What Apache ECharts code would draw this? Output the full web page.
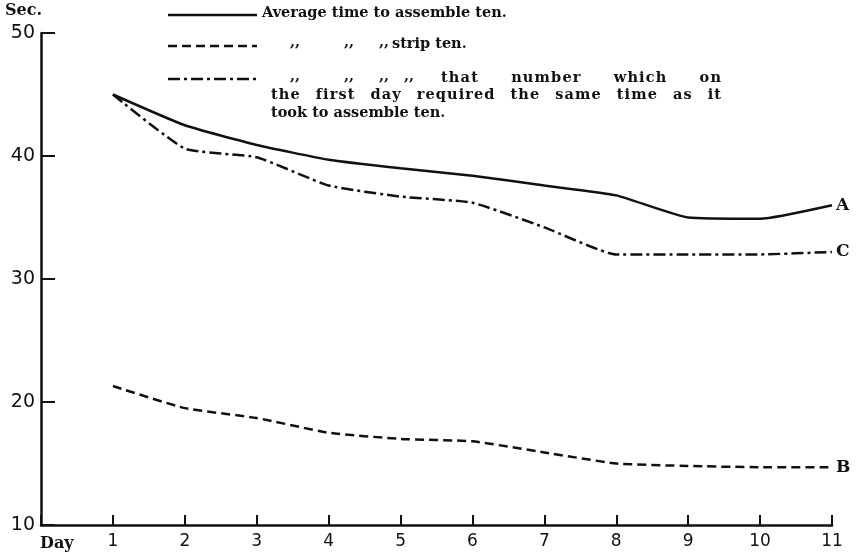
<!DOCTYPE html>
<html>
<head>
<meta charset="utf-8">
<script src="https://cdn.jsdelivr.net/npm/echarts@6/dist/echarts.min.js"></script>
<style>
  html, body { margin: 0; padding: 0; background: #fff; }
  #main { width: 867px; height: 557px; }
</style>
</head>
<body>
<div id="main"></div>
<script>
// days on the x axis
var days = [1, 2, 3, 4, 5, 6, 7, 8, 9, 10, 11];
// A: average time to assemble ten
var assembleTen = [45, 42.5, 40.9, 39.7, 39.0, 38.4, 37.6, 36.8, 35.0, 34.9, 36.0];
// B: average time to strip ten
var stripTen = [21.3, 19.5, 18.7, 17.5, 17.0, 16.8, 15.9, 15.0, 14.8, 14.7, 14.7];
// C: time to assemble the day-1 equivalent number
var sameNumber = [45, 40.6, 39.9, 37.6, 36.7, 36.2, 34.2, 32.0, 32.0, 32.0, 32.2];
var yTicks = [10, 20, 30, 40, 50];

var serif = 'DejaVu Serif';
var sans = 'DejaVu Sans';
var ink = '#111';
var legendSize = 14.5;

function pairs(vals) {
    return days.map(function (d, i) { return [d, vals[i]]; });
}

function mkSeries(name, tag, vals, dash) {
    return {
        name: name,
        type: 'line',
        data: pairs(vals),
        symbol: 'none',
        smooth: 0.15,
        silent: true,
        lineStyle: { color: ink, width: 2.5, type: dash },
        endLabel: {
            show: true,
            formatter: tag,
            distance: 4,
            color: ink,
            fontFamily: serif,
            fontWeight: 'bold',
            fontSize: 17
        }
    };
}

function txt(x, y, s, size) {
    return {
        type: 'text', left: x, top: y,
        style: { text: s, fill: ink, fontFamily: serif, fontWeight: 'bold', fontSize: size || legendSize }
    };
}
function sample(y, dash) {
    return {
        type: 'line',
        shape: { x1: 168, y1: y, x2: 257, y2: y },
        style: { stroke: ink, lineWidth: 2.5, lineDash: dash }
    };
}

// the printed legend is justified: spread the leftover room over the
// letter gaps (weight 1) and word gaps (weight wordW)
var measure = document.createElement('canvas').getContext('2d');
measure.font = 'bold ' + legendSize + 'px "' + serif + '"';
function justify(line, x1, x2, top, wordW) {
    var chars = line.split('');
    var widths = chars.map(function (c) { return measure.measureText(c).width; });
    var total = widths.reduce(function (a, b) { return a + b; }, 0);
    var weights = [], wsum = 0;
    for (var i = 0; i < chars.length - 1; i++) {
        var w = (chars[i] === ' ' || chars[i + 1] === ' ') ? wordW : 1;
        weights.push(w);
        wsum += w;
    }
    var unit = (x2 - x1 - total) / wsum;
    var x = x1, out = [];
    chars.forEach(function (c, i) {
        if (c !== ' ') out.push(txt(x, top, c));
        x += widths[i] + (i < weights.length ? weights[i] * unit : 0);
    });
    return out;
}

var legend = [
    txt(5, 3, 'Sec.', 16),
    txt(40, 536, 'Day', 16),
    sample(15, null),
    sample(46, [9, 5]),
    sample(79, [12, 4, 3, 4]),
    txt(262, 6, 'Average time to assemble ten.'),
    txt(290, 35, ',,'), txt(344, 35, ',,'), txt(379, 35, ',,'),
    txt(392, 37, 'strip ten.'),
    txt(290, 69, ',,'), txt(344, 69, ',,'), txt(379, 69, ',,'), txt(404, 69, ',,')
]
    .concat(justify('that number which on', 441, 721, 71, 12))
    .concat(justify('the first day required the same time as it', 271, 721, 88, 5))
    .concat([txt(271, 106, 'took to assemble ten.')]);

var chart = echarts.init(document.getElementById('main'));
chart.setOption({
    backgroundColor: '#fff',
    animation: false,
    grid: { left: 41, right: 35, top: 33, bottom: 32 },
    xAxis: {
        type: 'value',
        min: 0,
        max: 11,
        interval: 1,
        axisLine: { lineStyle: { color: ink, width: 2.5 } },
        axisTick: { inside: true, length: 10, lineStyle: { color: ink, width: 2 } },
        axisLabel: {
            color: ink, fontFamily: sans, fontSize: 17, margin: 8,
            formatter: function (v) { return v === 0 ? '' : v; }
        },
        splitLine: { show: false }
    },
    yAxis: {
        type: 'value',
        min: yTicks[0],
        max: yTicks[yTicks.length - 1],
        interval: 10,
        axisLine: { show: true, lineStyle: { color: ink, width: 2.5 } },
        axisTick: { show: true, inside: true, length: 14, lineStyle: { color: ink, width: 2 } },
        axisLabel: { color: ink, fontFamily: sans, fontSize: 19, margin: 6 },
        splitLine: { show: false }
    },
    graphic: legend,
    series: [
        mkSeries('Average time to assemble ten.', 'A', assembleTen, 'solid'),
        mkSeries('strip ten.', 'B', stripTen, [9, 5]),
        mkSeries('that number', 'C', sameNumber, [12, 4, 3, 4])
    ]
});
</script>
</body>
</html>
